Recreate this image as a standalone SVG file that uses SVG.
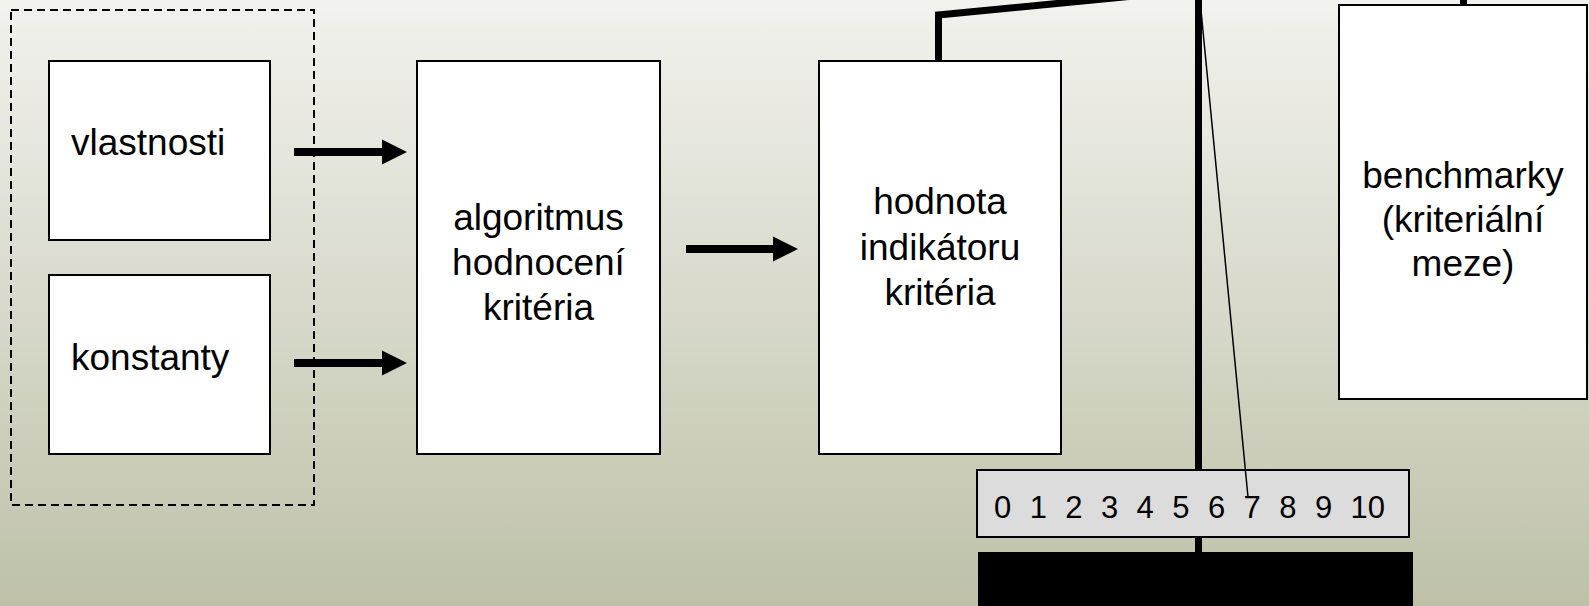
<svg xmlns="http://www.w3.org/2000/svg" width="1589" height="606" viewBox="0 0 1589 606">
<defs>
<linearGradient id="bg" x1="0" y1="0" x2="0" y2="1">
<stop offset="0" stop-color="#F2F2EE"/>
<stop offset="1" stop-color="#BEC1A8"/>
</linearGradient>
<marker id="ah" markerUnits="userSpaceOnUse" viewBox="0 -13 26 26" markerWidth="26" markerHeight="26" refX="1" refY="0" orient="auto" overflow="visible">
<path d="M0,-12.5 L25,0 L0,12.5 z" fill="#000"/>
</marker>
<style>
.box{fill:#fff;stroke:#000;stroke-width:2}
.t{font-family:"Liberation Sans",Arial,sans-serif;font-size:37px;fill:#000}
.c{text-anchor:middle}
.arr{stroke:#000;stroke-width:8;fill:none;marker-end:url(#ah)}
.thick{stroke:#000;stroke-width:7;fill:none}
</style>
</defs>
<rect x="0" y="0" width="1589" height="606" fill="url(#bg)"/>

<g id="group-inputs">
<rect x="11" y="10" width="303" height="495" fill="none" stroke="#000" stroke-width="2" stroke-dasharray="8 5"/>
</g>

<g id="vlastnosti">
<rect class="box" x="49" y="61" width="221" height="179"/>
<text class="t" x="71" y="155">vlastnosti</text>
</g>

<g id="konstanty">
<rect class="box" x="49" y="275" width="221" height="179"/>
<text class="t" x="71" y="370">konstanty</text>
</g>

<g id="algoritmus">
<rect class="box" x="417" y="61" width="243" height="393"/>
<text class="t c" x="538.5" y="230">algoritmus</text>
<text class="t c" x="538.5" y="275">hodnocení</text>
<text class="t c" x="538.5" y="320">kritéria</text>
</g>

<g id="hodnota">
<rect class="box" x="819" y="61" width="242" height="393"/>
<text class="t c" x="940" y="214">hodnota</text>
<text class="t c" x="940" y="260">indikátoru</text>
<text class="t c" x="940" y="305">kritéria</text>
</g>

<g id="benchmarky">
<rect class="box" x="1339" y="5" width="248" height="394"/>
<text class="t c" x="1463" y="188">benchmarky</text>
<text class="t c" x="1463" y="232">(kriteriální</text>
<text class="t c" x="1463" y="276">meze)</text>
</g>

<g id="balance">
<polyline class="thick" points="938.5,61 938.5,15 1463.5,-36 1463.5,6"/>
<line class="thick" x1="1198.5" y1="-20" x2="1198.5" y2="553"/>
<rect x="978" y="552" width="435" height="60" fill="#000"/>
</g>

<g id="scale">
<rect x="977" y="470" width="432" height="67" fill="#DCDCDC" stroke="#000" stroke-width="2"/>
<text font-family="Liberation Sans, Arial, sans-serif" font-size="31" x="994" y="518" word-spacing="9.8" fill="#000">0 1 2 3 4 5 6 7 8 9 10</text>
</g>

<g id="needle">
<line x1="1200" y1="0" x2="1248" y2="497" stroke="#000" stroke-width="1.5"/>
</g>

<g id="connectors">
<line class="arr" x1="294" y1="152" x2="383" y2="152"/>
<line class="arr" x1="294" y1="363" x2="383" y2="363"/>
<line class="arr" x1="686" y1="249" x2="774" y2="249"/>
</g>
</svg>
